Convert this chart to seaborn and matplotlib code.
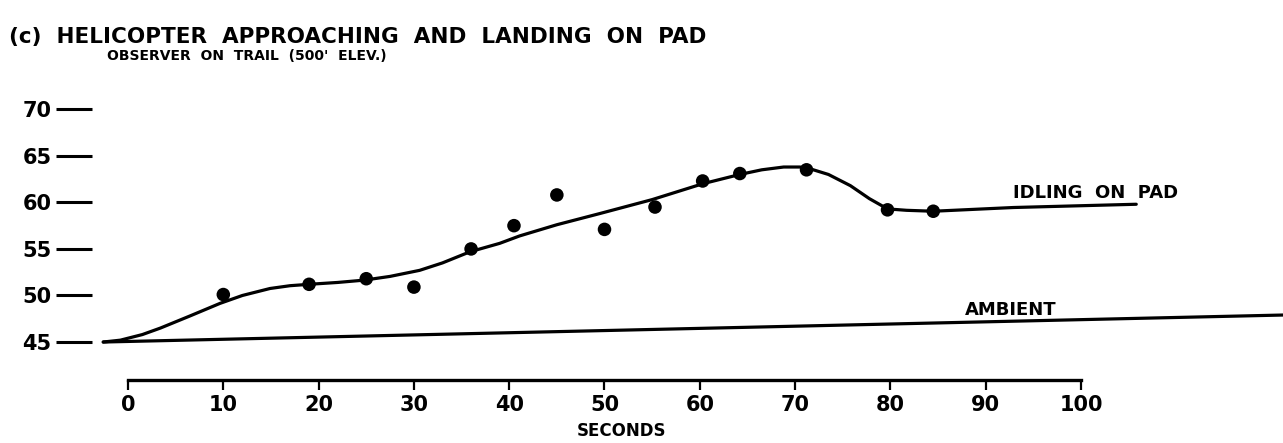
import matplotlib
matplotlib.use("Agg")
import matplotlib.pyplot as plt
import pandas as pd
import seaborn as sns

point_sec = [10, 19, 25, 30, 36, 40.5, 45, 50, 55.3, 60.3, 64.2, 71.2, 79.7, 84.5]
point_db = [50.1, 51.2, 51.8, 50.9, 55.0, 57.5, 60.8, 57.1, 59.5, 62.3, 63.1, 63.5, 59.2, 59.05]

# hand-faired curve through the points
curve_sec = [-2.6, -0.8, 1.5, 3.4, 6.5, 9.65, 12.0, 14.9, 17.0, 19.0, 22.0, 24.8,
             27.5, 30.6, 33.0, 35.9, 39.0, 41.1, 45.0, 49.5, 55.0, 60.3, 64.2,
             66.5, 68.8, 70.5, 71.6, 73.5, 75.8, 77.8, 79.7, 81.7, 84.5, 92.9, 105.8]
curve_db = [45.0, 45.2, 45.8, 46.5, 47.8, 49.15, 50.0, 50.75, 51.05, 51.2, 51.4, 51.65,
            52.05, 52.7, 53.5, 54.7, 55.6, 56.4, 57.6, 58.8, 60.3, 62.0, 63.0,
            63.5, 63.8, 63.8, 63.6, 63.0, 61.8, 60.4, 59.3, 59.15, 59.05, 59.45, 59.8]

# ambient level line (scan is slightly tilted)
ambient_sec = [-2.6, 121.2]
ambient_db = [45.0, 47.9]

x_ticks = [0, 10, 20, 30, 40, 50, 60, 70, 80, 90, 100]
y_ticks = [45, 50, 55, 60, 65, 70]

sns.set_theme(style="white")
plt.rcParams["font.family"] = ["DejaVu Sans"]
plt.rcParams["font.weight"] = "bold"
plt.rcParams["text.color"] = "black"
plt.rcParams["xtick.color"] = "black"
plt.rcParams["ytick.color"] = "black"
plt.rcParams["axes.labelcolor"] = "black"

fig = plt.figure(figsize=(12.83, 4.43), dpi=100)
ax = fig.add_axes([92 / 1283, 1 - 380 / 443, 1191 / 1283, 280 / 443])

pts = pd.DataFrame({"sec": point_sec, "db": point_db})
curve = pd.DataFrame({"sec": curve_sec, "db": curve_db})
amb = pd.DataFrame({"sec": ambient_sec, "db": ambient_db})

sns.lineplot(data=curve, x="sec", y="db", sort=False, color="black", lw=2.3, ax=ax)
sns.lineplot(data=amb, x="sec", y="db", sort=False, color="black", lw=2.3, ax=ax)
sns.scatterplot(data=pts, x="sec", y="db", color="black", s=95, edgecolor="none", ax=ax, zorder=3)

ax.set_xlim(-3.78, 121.2)
ax.set_ylim(40.92, 71.0)

for side in ["top", "right", "left"]:
    ax.spines[side].set_visible(False)
ax.spines["bottom"].set_bounds(0, 100)
ax.spines["bottom"].set_linewidth(2.4)
ax.spines["bottom"].set_color("black")

ax.set_xticks(x_ticks)
ax.set_xticklabels([str(t) for t in x_ticks])
ax.set_yticks(y_ticks)
ax.set_yticklabels([str(t) for t in y_ticks])
ax.tick_params(axis="x", direction="out", length=7, width=1.6,
               pad=4, labelsize=15, bottom=True)
ax.tick_params(axis="y", direction="out", length=26, width=2.2,
               pad=3, labelsize=15, left=True)
for lab in ax.get_xticklabels() + ax.get_yticklabels():
    lab.set_fontweight("bold")

ax.set_xlabel("SECONDS", fontsize=12, fontweight="bold")
ax.xaxis.set_label_coords((622 - 92) / 1191, -0.15)
ax.set_ylabel("")

ax.text(92.9, 61.0, "IDLING  ON  PAD", fontsize=13, fontweight="bold", va="center", ha="left")
ax.text(87.8, 48.4, "AMBIENT", fontsize=13, fontweight="bold", va="center", ha="left")

fig.text(9 / 1283, 1 - 37 / 443, "(c)  HELICOPTER  APPROACHING  AND  LANDING  ON  PAD",
         fontsize=15.5, fontweight="bold", va="center", ha="left")
fig.text(107 / 1283, 1 - 56 / 443, "OBSERVER  ON  TRAIL  (500'  ELEV.)",
         fontsize=10, fontweight="bold", va="center", ha="left")

fig.savefig("out.png", dpi=100, facecolor="white")
